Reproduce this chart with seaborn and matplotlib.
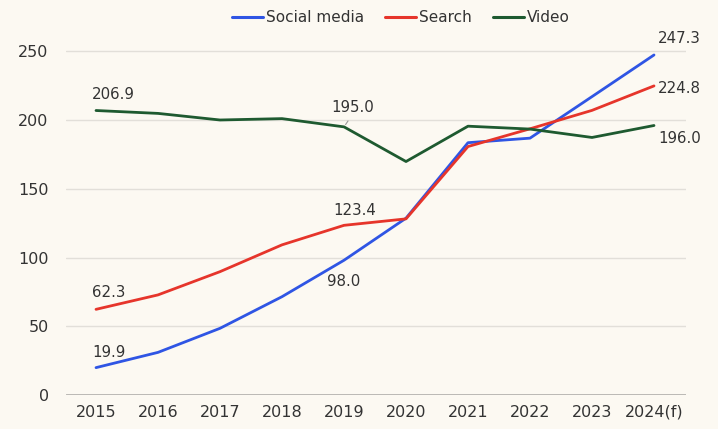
import matplotlib
matplotlib.use("Agg")
import matplotlib.pyplot as plt
import seaborn as sns
import pandas as pd
from matplotlib.lines import Line2D

years = ["2015", "2016", "2017", "2018", "2019", "2020", "2021", "2022", "2023", "2024(f)"]
social_media = [19.9, 31.0, 48.5, 71.5, 98.0, 128.6, 183.5, 186.8, 217.0, 247.3]
search = [62.3, 72.8, 89.7, 109.2, 123.4, 128.1, 180.7, 193.6, 207.0, 224.8]
video = [206.9, 204.8, 200.0, 201.0, 195.0, 169.8, 195.5, 193.4, 187.3, 196.0]
series_names = ["Social media", "Search", "Video"]
colors = ["#2f55e4", "#e6352b", "#1e5a30"]

# labelled points: (series, year index, dx px, dy px, ha, va)
labels = [
    ("Social media", 0, -4, 8, "left", "bottom"),
    ("Social media", 4, 0, -14, "center", "top"),
    ("Social media", 9, 4, 9, "left", "bottom"),
    ("Search", 0, -4, 9, "left", "bottom"),
    ("Search", 4, 11, 7, "center", "bottom"),
    ("Search", 9, 4, -3, "left", "center"),
    ("Video", 0, -4, 9, "left", "bottom"),
    ("Video", 4, 9, 12, "center", "bottom"),
    ("Video", 9, 4, -13, "left", "center"),
]

df = pd.DataFrame({
    "x": list(range(len(years))) * 3,
    "value": social_media + search + video,
    "series": [s for s in series_names for _ in years],
})

sns.set_theme(style="white")
plt.rcParams["font.family"] = ["DejaVu Sans"]
bg = "#fcf9f2"
txt = "#333333"

fig = plt.figure(figsize=(7.18, 4.29), dpi=100, facecolor=bg)
ax = fig.add_axes([66 / 718, 1 - 395 / 429, 620 / 718, (395 - 37.5) / 429])
ax.set_facecolor(bg)

sns.lineplot(data=df, x="x", y="value", hue="series", hue_order=series_names,
             palette=colors, linewidth=2.0, ax=ax, legend=False, zorder=3)

ax.set_xlim(-0.484, 9.516)
ax.set_ylim(0, 260)
ax.set_yticks([0, 50, 100, 150, 200, 250])
for yv in [50, 100, 150, 200, 250]:
    ax.axhline(yv, color="#e2dfd9", linewidth=1.0, zorder=1)
ax.axhline(0, color="#b5b3af", linewidth=2.0, zorder=2)
ax.set_xticks(range(len(years)))
ax.set_xticklabels(years)
ax.tick_params(axis="both", length=0, labelsize=11.5, labelcolor=txt)
ax.tick_params(axis="y", pad=12.5)
ax.tick_params(axis="x", pad=7)
for s in ax.spines.values():
    s.set_visible(False)
ax.set_xlabel("")
ax.set_ylabel("")

vals = {"Social media": social_media, "Search": search, "Video": video}
for name, i, dx, dy, ha, va in labels:
    v = vals[name][i]
    ax.annotate(f"{v:.1f}", xy=(i, v), xytext=(dx * 0.72, dy * 0.72),
                textcoords="offset points", ha=ha, va=va, fontsize=10.8,
                color=txt, zorder=5)

# small leader for the 2019 video label
ax.annotate("", xy=(4, video[4]), xytext=(4.09, video[4] + 6),
            arrowprops=dict(arrowstyle="-", color="#9a9a9a", linewidth=0.8), zorder=2)

handles = [Line2D([0], [0], color=c, linewidth=2.2) for c in colors]
fig.legend(handles, series_names, loc="center", bbox_to_anchor=(401 / 718, 1 - 18 / 429),
           ncol=3, frameon=False, fontsize=11, handlelength=2.0, handletextpad=0.2,
           columnspacing=1.4, labelcolor=txt)

fig.savefig("out.png", dpi=100, facecolor=bg)
